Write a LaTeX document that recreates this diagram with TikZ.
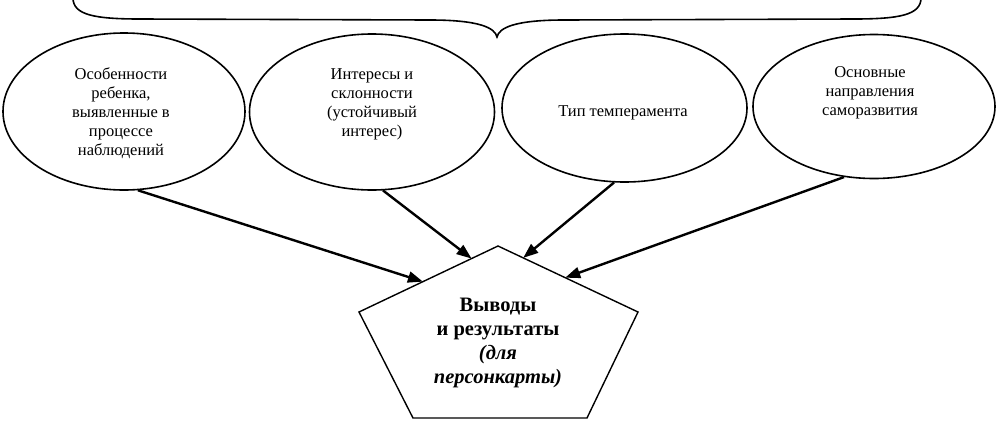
\documentclass[tikz,border=0pt]{standalone}
\usepackage{fontspec}
\setmainfont{Liberation Serif}
\usetikzlibrary{shapes.geometric,arrows.meta,calc}
\begin{document}
\begin{tikzpicture}[x=1pt,y=-1pt,
  oval/.style={ellipse,draw,line width=1.6pt,inner sep=0pt},
  lbl/.style={align=center,font=\fontsize{16.5}{19}\selectfont},
  big/.style={align=center,font=\fontsize{20.5}{24}\selectfont\bfseries},
  conn/.style={line width=2.4pt,-{Triangle[length=15pt,width=11pt]}},
  edge/.style={line width=1.4pt,line join=miter}
]
\useasboundingbox (0,0) rectangle (997,421);
% brace
\draw[line width=1.6pt] (73,-2) .. controls (73,15) and (95,19) .. (140,19) -- (430,20)
  .. controls (480,20) and (495,28) .. (497,37)
  .. controls (499,28) and (514,20) .. (564,20) -- (854,19)
  .. controls (899,19) and (921,15) .. (921,-2);
% ellipses
\node[oval,minimum width=242pt,minimum height=157pt] (e1) at (124,111.5) {};
\node[oval,minimum width=245pt,minimum height=156pt] (e2) at (372,112) {};
\node[oval,minimum width=245pt,minimum height=148pt] (e3) at (624.5,108) {};
\node[oval,minimum width=242pt,minimum height=144pt] (e4) at (874,106.5) {};
\node[lbl] (t1) at (121,113) {Особенности\\ребенка,\\выявленные в\\процессе\\наблюдений};
\node[lbl] (t2) at (372,104) {Интересы и\\склонности\\(устойчивый\\интерес)};
\node[lbl] (t3) at (623,113) {Тип темперамента};
\node[lbl] (t4) at (870,93) {Основные\\направления\\саморазвития};
% pentagon
\coordinate (pt) at (498,246);
\coordinate (pl) at (359,312);
\coordinate (pr) at (638,312);
\coordinate (pbl) at (413,418);
\coordinate (pbr) at (587,418);
\draw[edge] (pt) -- (pr) -- (pbr) -- (pbl) -- (pl) -- cycle;
\node[big] (res) at (498,343) {Выводы\\и результаты\\\itshape(для\\\itshape персонкарты)};
\coordinate (a1) at ($(pl)!0.46!(pt)$);
\coordinate (a2) at ($(pl)!0.81!(pt)$);
\coordinate (a3) at ($(pt)!0.18!(pr)$);
\coordinate (a4) at ($(pt)!0.48!(pr)$);
% connectors
\draw[conn] (e1.-80.6) -- (a1);
\draw[conn] (e2.-82) -- (a2);
\draw[conn] (e3.-98.8) -- (a3);
\draw[conn] (e4.-113.4) -- (a4);
\end{tikzpicture}
\end{document}
